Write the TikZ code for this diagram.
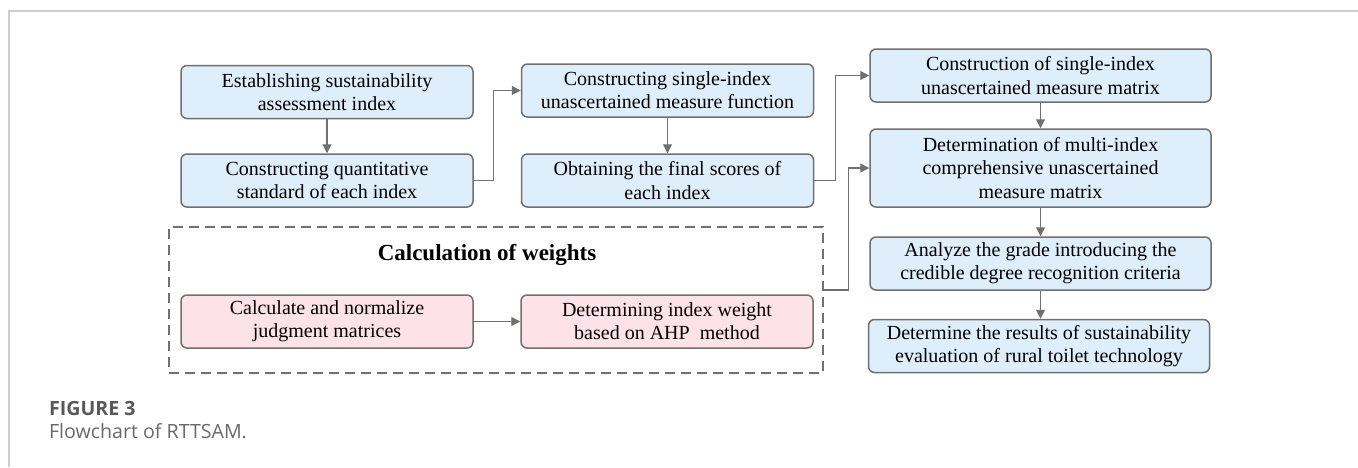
\documentclass[tikz,border=0pt]{standalone}
\usepackage{fontspec}
\setmainfont{Liberation Serif}
\newfontfamily\capfont{Open Sans}
\usepackage{xcolor}
\usetikzlibrary{arrows.meta,positioning}

\definecolor{boxblue}{RGB}{222,238,250}
\definecolor{boxpink}{RGB}{253,226,231}
\definecolor{linegray}{RGB}{112,112,112}
\definecolor{framegray}{RGB}{205,205,205}
\definecolor{capgray}{RGB}{105,105,105}

\begin{document}
\begin{tikzpicture}[
    x=0.5pt, y=-0.5pt,
    font=\fontsize{10}{11.6}\selectfont,
    flow/.style={rectangle, rounded corners=3pt, draw=linegray, line width=0.75pt, fill=boxblue, align=center, inner sep=0pt, minimum width=146pt, minimum height=26.5pt},
    wide/.style={flow, minimum width=170.5pt},
    weight/.style={flow, fill=boxpink},
    link/.style={-{Triangle[length=4.5pt,width=4.5pt]}, linegray, line width=0.6pt},
    group/.style={draw=linegray, dash pattern=on 5pt off 3pt, line width=1.2pt, minimum width=327pt, minimum height=73pt, inner sep=0pt},
    caption/.style={anchor=base west, text=capgray, font=\capfont\fontsize{9.8}{12}\selectfont}
]
    \useasboundingbox (0,0) rectangle (1358,467);

    % Page frame
    \draw[framegray, line width=0.6pt] (1358,11) -- (9,11) -- (9,467);

    % Left column
    \node[flow] (est) at (327,92) {Establishing sustainability\\assessment index};
    \node[flow] (quant) at (327,180.5) {Constructing quantitative\\standard of each index};

    % Middle column
    \node[flow] (func) at (667.5,90.5) {Constructing single-index\\unascertained measure function};
    \node[flow] (score) at (667.5,180.5) {Obtaining the final scores of\\each index};

    % Right column
    \node[wide] (single) at (1040.5,75.5) {Construction of single-index\\unascertained measure matrix};
    \node[wide, minimum height=39pt] (multi) at (1040.5,168) {Determination of multi-index\\comprehensive unascertained\\measure matrix};
    \node[wide] (grade) at (1040.5,263.5) {Analyze the grade introducing the\\credible degree recognition criteria};
    \node[wide] (result) at (1039,346) {Determine the results of sustainability\\evaluation of rural toilet technology};

    % Weights group
    \node[group] (weights) at (496,300) {};
    \node[font=\bfseries\fontsize{11.5}{13}\selectfont] (wtitle) at (487,255) {Calculation of weights};
    \node[weight] (judge) at (327,321.5) {Calculate and normalize\\judgment matrices};
    \node[weight] (ahp) at (667,321.5) {Determining index weight\\based on AHP\ \ method};

    % Connectors
    \draw[link] (est) -- (quant);
    \draw[link] (quant.east) -- ++(20,0) |- (func.west);
    \draw[link] (func) -- (score);
    \draw[link] (score.east) -- ++(21,0) |- (single.west);
    \draw[link] (single) -- (multi);
    \draw[link] (multi) -- (grade);
    \draw[link] (grade.south) -- (grade.south |- result.north);
    \draw[link] (judge) -- (ahp);
    \draw[link] ([yshift=5pt]weights.east) -- ++(24,0) |- (multi.west);

    % Caption
    \node[caption, font=\capfont\bfseries\fontsize{9.8}{12}\selectfont, text=capgray!85!black] (fig) at (42,415) {FIGURE 3};
    \node[caption] (figcap) at (42,438) {Flowchart of RTTSAM.};
\end{tikzpicture}
\end{document}
